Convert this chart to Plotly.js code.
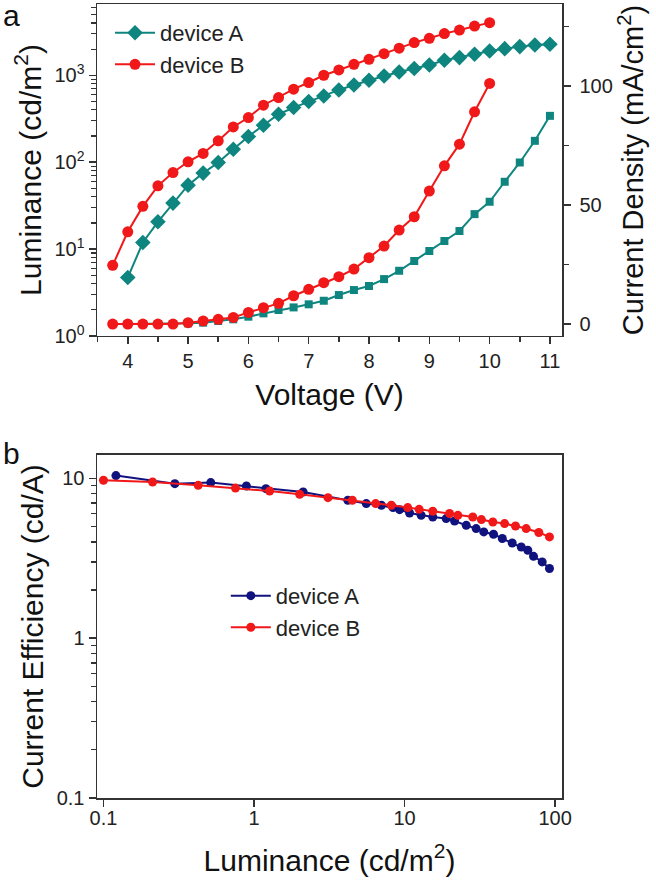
<!DOCTYPE html>
<html>
<head>
<meta charset="utf-8">
<script src="https://cdn.plot.ly/plotly-3.0.1.min.js"></script>
<style>html,body{margin:0;padding:0;background:#fff;}#chart{width:656px;height:880px;}</style>
</head>
<body>
<div id="chart"></div>
<script>
// ---- Panel a: luminance / current density vs voltage ----
const voltA = [4, 4.25, 4.5, 4.75, 5, 5.25, 5.5, 5.75, 6, 6.25, 6.5, 6.75, 7, 7.25, 7.5, 7.75, 8, 8.25, 8.5, 8.75, 9, 9.25, 9.5, 9.75, 10, 10.25, 10.5, 10.75, 11];
const voltB = [3.75, 4, 4.25, 4.5, 4.75, 5, 5.25, 5.5, 5.75, 6, 6.25, 6.5, 6.75, 7, 7.25, 7.5, 7.75, 8, 8.25, 8.5, 8.75, 9, 9.25, 9.5, 9.75, 10];
const lumA = [4.7, 11.9, 20.6, 33.8, 54.4, 74.8, 99, 141, 197, 266, 356, 425, 499, 578, 678, 773, 877, 982, 1090, 1194, 1313, 1486, 1597, 1743, 1903, 2025, 2136, 2228, 2270];
const lumB = [6.5, 15.8, 31, 53.4, 76, 101, 126, 176, 254, 326, 452, 554, 691, 825, 1000, 1151, 1338, 1527, 1774, 2050, 2375, 2662, 3015, 3315, 3686, 4031];
const jA = [0, 0, 0, 0, 0.3, 0.6, 1.3, 2.0, 3.1, 4.5, 5.9, 7.0, 8.3, 9.8, 12.2, 14.3, 16.0, 18.9, 22.4, 26.5, 30.7, 34.9, 39.1, 46.2, 51.4, 59.8, 67.9, 77.0, 87.5];
const jB = [0, 0, 0, 0, 0, 0.6, 1.3, 2.0, 2.8, 4.9, 6.9, 8.7, 11.9, 14.6, 17.4, 19.9, 23.1, 27.9, 32.8, 39.5, 45.1, 55.9, 66.5, 75.6, 89.2, 101.1];

// ---- Panel b: current efficiency vs luminance ----
const effLumA = [0.121, 0.298, 0.516, 0.89, 1.2, 2.12, 4.2, 5.57, 7.02, 8.38, 9.27, 10.8, 12.9, 15.4, 18.9, 21.5, 25.7, 29.9, 33.6, 39.0, 44.6, 51.9, 59.6, 65.9, 71.9, 82.1, 91.8];
const effA = [10.4, 9.26, 9.4, 8.95, 8.62, 8.21, 7.29, 6.95, 6.78, 6.56, 6.37, 6.07, 5.87, 5.73, 5.60, 5.41, 5.08, 4.85, 4.62, 4.47, 4.20, 3.94, 3.72, 3.55, 3.25, 3.0, 2.73];
const effLumB = [0.10, 0.212, 0.426, 0.753, 1.27, 2.01, 3.10, 4.5, 6.43, 8.17, 10.5, 12.5, 15.4, 19.9, 22.6, 28.4, 32.4, 38.6, 46.2, 54.6, 64.3, 78, 91.8];
const effB = [9.72, 9.48, 9.04, 8.69, 8.33, 7.94, 7.57, 7.29, 6.95, 6.78, 6.56, 6.40, 6.22, 6.02, 5.87, 5.73, 5.52, 5.33, 5.21, 5.03, 4.85, 4.58, 4.30];

const names = ['device A', 'device B'];
const lumTickVals = [1, 10, 100, 1000];
const lumTickText = ['10<sup>0</sup>', '10<sup>1</sup>', '10<sup>2</sup>', '10<sup>3</sup>'];
const lumMinorVals = [2, 3, 4, 5, 6, 7, 8, 9, 20, 30, 40, 50, 60, 70, 80, 90, 200, 300, 400, 500, 600, 700, 800, 900, 2000, 3000, 4000, 5000, 6000];
const effTickVals = [0.1, 1, 10];
const effTickText = ['0.1', '1', '10'];
const effMinorVals = [0.2, 0.3, 0.4, 0.5, 0.6, 0.7, 0.8, 0.9, 2, 3, 4, 5, 6, 7, 8, 9];
const bLumTickVals = [0.1, 1, 10, 100];
const bLumTickText = ['0.1', '1', '10', '100'];

const TEAL = '#0f8580';
const RED = '#f01818';
const NAVY = '#10127e';
const FONT = 'Liberation Sans, Arial, sans-serif';
const AX = '#333333';

const traces = [
  {x: voltA, y: lumA, name: names[0], type: 'scatter', mode: 'lines+markers', xaxis: 'x', yaxis: 'y',
   line: {color: TEAL, width: 2}, marker: {symbol: 'diamond', size: 12, color: TEAL}, legend: 'legend'},
  {x: voltB, y: lumB, name: names[1], type: 'scatter', mode: 'lines+markers', xaxis: 'x', yaxis: 'y',
   line: {color: RED, width: 2}, marker: {symbol: 'circle', size: 11, color: RED}, legend: 'legend'},
  {x: voltA, y: jA, name: names[0], type: 'scatter', mode: 'lines+markers', xaxis: 'x', yaxis: 'y2',
   line: {color: TEAL, width: 2}, marker: {symbol: 'square', size: 8, color: TEAL}, showlegend: false},
  {x: voltB, y: jB, name: names[1], type: 'scatter', mode: 'lines+markers', xaxis: 'x', yaxis: 'y2',
   line: {color: RED, width: 2}, marker: {symbol: 'circle', size: 11, color: RED}, showlegend: false},
  {x: effLumA, y: effA, name: names[0], type: 'scatter', mode: 'lines+markers', xaxis: 'x2', yaxis: 'y3',
   line: {color: NAVY, width: 2}, marker: {symbol: 'circle', size: 9, color: NAVY}, legend: 'legend2'},
  {x: effLumB, y: effB, name: names[1], type: 'scatter', mode: 'lines+markers', xaxis: 'x2', yaxis: 'y3',
   line: {color: RED, width: 2}, marker: {symbol: 'circle', size: 9, color: RED}, legend: 'legend2'}
];

const tickFont = {family: FONT, size: 20, color: '#222'};
const titleFont = {family: FONT, size: 30, color: '#111'};

const layout = {
  width: 656, height: 880,
  margin: {l: 97, r: 94, t: 4, b: 82},
  paper_bgcolor: '#fff', plot_bgcolor: '#fff',
  font: {family: FONT, color: '#222'},
  xaxis: {
    domain: [0, 1], anchor: 'y', range: [3.49, 11.2], dtick: 1, tick0: 0,
    ticks: 'outside', ticklen: 7, tickwidth: 1.5, tickcolor: AX,
    minor: {dtick: 0.5, tick0: 0, ticks: 'outside', ticklen: 5, tickwidth: 1.5, tickcolor: AX, showgrid: false},
    showline: true, linecolor: AX, linewidth: 1.5, mirror: true, showgrid: false, zeroline: false,
    tickfont: tickFont,
    title: {text: 'Voltage (V)', font: titleFont, standoff: 12}
  },
  yaxis: {
    domain: [0.5819, 1], anchor: 'x', type: 'log', range: [0, 3.82],
    tickmode: 'array', tickvals: lumTickVals, ticktext: lumTickText,
    ticks: 'outside', ticklen: 7, tickwidth: 1.5, tickcolor: AX,
    minor: {tickmode: 'array', tickvals: lumMinorVals, ticks: 'outside', ticklen: 5, tickwidth: 1.2, tickcolor: AX, showgrid: false},
    showline: true, linecolor: AX, linewidth: 1.5, showgrid: false, zeroline: false,
    tickfont: tickFont,
    title: {text: 'Luminance (cd/m<sup>2</sup>)', font: titleFont, standoff: 4}
  },
  yaxis2: {
    overlaying: 'y', side: 'right', anchor: 'x', range: [-5, 134.5],
    tickvals: [0, 50, 100], ticks: 'outside', ticklen: 7, tickwidth: 1.5, tickcolor: AX,
    minor: {tickmode: 'array', tickvals: [25, 75, 125], ticks: 'outside', ticklen: 5, tickwidth: 1.5, tickcolor: AX, showgrid: false},
    showline: true, linecolor: AX, linewidth: 1.5, showgrid: false, zeroline: false,
    tickfont: tickFont, ticklabelstandoff: 5,
    title: {text: 'Current Density (mA/cm<sup>2</sup>)', font: {family: FONT, size: 29, color: '#111'}, standoff: 6}
  },
  xaxis2: {
    domain: [0, 1], anchor: 'y3', type: 'log', range: [-1.043, 2.046],
    tickmode: 'array', tickvals: bLumTickVals, ticktext: bLumTickText,
    ticks: 'outside', ticklen: 7, tickwidth: 1.5, tickcolor: AX,
    showline: true, linecolor: AX, linewidth: 1.5, mirror: true, showgrid: false, zeroline: false,
    tickfont: tickFont, ticklabelstandoff: -6,
    title: {text: 'Luminance (cd/m<sup>2</sup>)', font: titleFont, standoff: 22}
  },
  yaxis3: {
    domain: [0, 0.432], anchor: 'x2', type: 'log', range: [-1, 1.146],
    tickmode: 'array', tickvals: effTickVals, ticktext: effTickText,
    ticks: 'outside', ticklen: 7, tickwidth: 1.5, tickcolor: AX,
    minor: {tickmode: 'array', tickvals: effMinorVals, ticks: 'outside', ticklen: 5, tickwidth: 1.2, tickcolor: AX, showgrid: false},
    showline: true, linecolor: AX, linewidth: 1.5, mirror: true, showgrid: false, zeroline: false,
    tickfont: tickFont,
    title: {text: 'Current Efficiency (cd/A)', font: titleFont, standoff: 4}
  },
  legend: {
    x: 0.028, y: 0.99, xanchor: 'left', yanchor: 'top',
    bgcolor: 'rgba(0,0,0,0)', borderwidth: 0, itemwidth: 40,
    font: {family: FONT, size: 22, color: '#222'}, tracegroupgap: 0
  },
  legend2: {
    x: 0.277, y: 0.281, xanchor: 'left', yanchor: 'top',
    bgcolor: 'rgba(0,0,0,0)', borderwidth: 0, itemwidth: 40,
    font: {family: FONT, size: 22, color: '#222'}, tracegroupgap: 0
  },
  annotations: [
    {text: 'a', xref: 'paper', yref: 'paper', x: -0.183, y: 0.985, showarrow: false,
     font: {family: FONT, size: 30, color: '#111'}, xanchor: 'center', yanchor: 'middle'},
    {text: 'b', xref: 'paper', yref: 'paper', x: -0.183, y: 0.434, showarrow: false,
     font: {family: FONT, size: 30, color: '#111'}, xanchor: 'center', yanchor: 'middle'}
  ],
  showlegend: true
};

Plotly.newPlot('chart', traces, layout, {displayModeBar: false, staticPlot: true});
</script>
</body>
</html>
